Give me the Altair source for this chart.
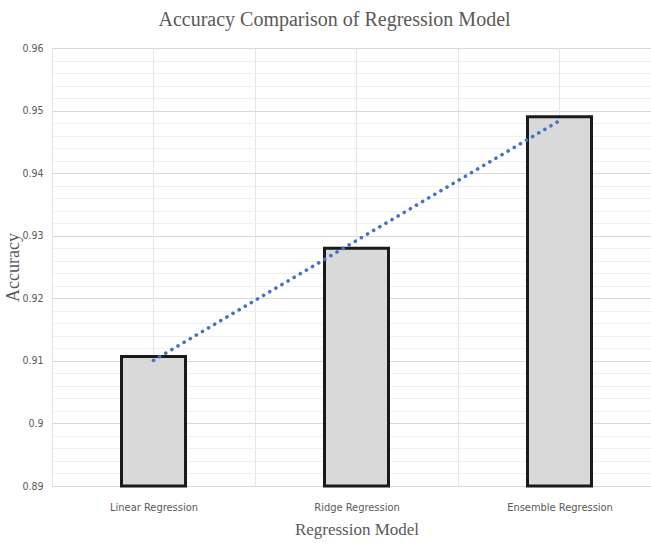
import altair as alt
import numpy as np
import pandas as pd

# Model accuracies
models = ["Linear Regression", "Ridge Regression", "Ensemble Regression"]
accuracy = [0.9107, 0.928, 0.949]

# Accuracy axis range
y_min, y_max = 0.89, 0.96

# Linear trend over the three models (fitted on model order 1..3)
order = np.arange(1, len(models) + 1)
slope, intercept = np.polyfit(order, accuracy, 1)
trend = [float(slope * i + intercept) for i in order]

bars_df = pd.DataFrame({"model": models, "accuracy": accuracy, "base": [y_min] * len(models)})
trend_df = pd.DataFrame({"model": models, "trend": trend})

# y ticks every 0.002, labelled every 0.01
y_ticks = [round(y_min + i * 0.002, 3) for i in range(36)]
is_major = "round(datum.value * 1000) % 10 == 0"

W, H = 599, 438
serif = "Liberation Serif"
narrow = "DejaVu Sans Condensed, Liberation Sans Narrow, Arial Narrow, sans-serif"

x_scale = alt.Scale(domain=models, range=[0, 609], paddingInner=0, paddingOuter=0)
y_scale = alt.Scale(domain=[y_min, y_max], zero=False, nice=False)

x_axis = alt.Axis(
    title="Regression Model",
    labelAngle=0,
    tickBand="extent",
    domain=False,
    ticks=False,
    grid=True,
    gridColor="#e6e6e6",
    labelFont=narrow,
    labelFontSize=11,
    labelColor="#595959",
    labelPadding=15,
    titleFont=serif,
    titleFontSize=17,
    titleFontWeight="normal",
    titleColor="#595959",
    titlePadding=9,
)

y_axis = alt.Axis(
    title="Accuracy",
    values=y_ticks,
    tickCount=len(y_ticks),
    labelExpr=f"{is_major} ? format(datum.value, '.2~f') : ''",
    labelOverlap=False,
    domain=False,
    ticks=False,
    grid=True,
    gridColor={"condition": {"test": is_major, "value": "#d9d9d9"}, "value": "#f0f0f0"},
    labelFont=narrow,
    labelFontSize=10.5,
    labelColor="#595959",
    labelPadding=9,
    titleFont=serif,
    titleFontSize=18,
    titleFontWeight="normal",
    titleColor="#595959",
    titleX=-30,
    titleY=H / 2,
)

# vertical guide lines through the middle of each category
center_lines = alt.Chart(bars_df).mark_rule(color="#e6e6e6", strokeWidth=1).encode(
    x=alt.X("model:N", scale=x_scale, axis=x_axis, sort=models),
    y=alt.value(0),
    y2=alt.value(H),
)

bars = alt.Chart(bars_df).mark_bar(
    size=64, fill="#d9d9d9", stroke="#1a1a1a", strokeWidth=3
).encode(
    x=alt.X("model:N", scale=x_scale, axis=x_axis, sort=models),
    y=alt.Y("accuracy:Q", scale=y_scale, axis=y_axis),
    y2="base:Q",
)

trend_line = alt.Chart(trend_df).mark_line(
    color="#4472c4", strokeWidth=3.6, strokeCap="round", strokeDash=[0.1, 7]
).encode(
    x=alt.X("model:N", scale=x_scale, sort=models),
    y=alt.Y("trend:Q", scale=y_scale),
)

chart = alt.layer(center_lines, bars, trend_line).properties(
    width=W,
    height=H,
    autosize=alt.AutoSizeParams(type="none"),
    padding={"left": 52, "top": 48, "right": 0, "bottom": 57},
    title=alt.TitleParams(
        "Accuracy Comparison of Regression Model",
        font=serif,
        fontSize=20,
        fontWeight="normal",
        color="#595959",
        anchor="middle",
        frame="group",
        dx=-17,
        offset=13,
    ),
).configure_view(stroke=None).configure(background="white")

chart.save("out.html", embed_options={"renderer": "svg", "actions": False})
